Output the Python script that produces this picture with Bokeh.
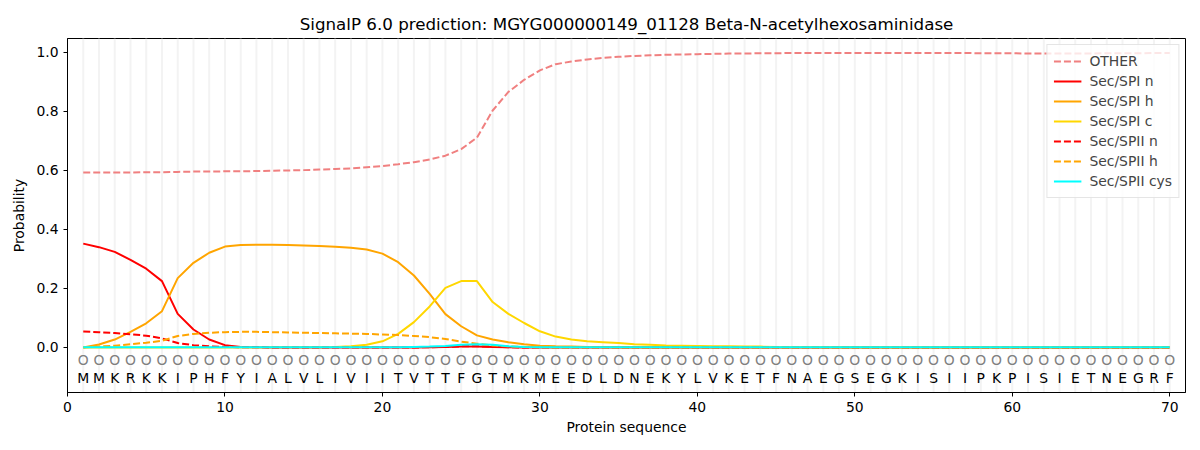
from bokeh.plotting import figure
from bokeh.models import Legend, LegendItem, Range1d, FixedTicker, CustomJSTickFormatter
from bokeh.core.properties import value
from bokeh.embed import file_html
from bokeh.resources import INLINE

title = "SignalP 6.0 prediction: MGYG000000149_01128 Beta-N-acetylhexosaminidase"
sequence = list("MMKRKKIPHFYIALVLIVIITVTTFGTMKMEEDLDNEKYLVKETFNAEGSEGKISIIPKPISIETNEGRF")
positions = list(range(1, len(sequence) + 1))

other = [0.593, 0.593, 0.593, 0.593, 0.594, 0.594, 0.595, 0.596, 0.596, 0.597,
         0.597, 0.598, 0.599, 0.600, 0.601, 0.603, 0.605, 0.607, 0.611, 0.615,
         0.621, 0.628, 0.637, 0.650, 0.672, 0.711, 0.803, 0.866, 0.907, 0.939,
         0.960, 0.969, 0.976, 0.981, 0.985, 0.988, 0.990, 0.992, 0.993, 0.994,
         0.995, 0.996, 0.996, 0.997, 0.997, 0.998, 0.998, 0.998, 0.998, 0.998,
         0.998, 0.998, 0.998, 0.998, 0.998, 0.998, 0.998, 0.997, 0.997, 0.997,
         0.996, 0.996, 0.996, 0.996, 0.996, 0.997, 0.997, 0.997, 0.998, 0.998]
spi_n = [0.352, 0.340, 0.324, 0.297, 0.267, 0.225, 0.114, 0.061, 0.027, 0.008,
         0.002, 0.001, 0.0, 0.0, 0.0, 0.0, 0.0, 0.0, 0.0, 0.0,
         0.0, 0.0, 0.001, 0.002, 0.003, 0.003, 0.002, 0.001, 0.0, 0.0] + [0.0] * 40
spi_h = [0.0, 0.010, 0.027, 0.053, 0.082, 0.123, 0.235, 0.287, 0.321, 0.342,
         0.347, 0.348, 0.348, 0.347, 0.346, 0.344, 0.341, 0.338, 0.332, 0.318,
         0.289, 0.244, 0.182, 0.113, 0.072, 0.041, 0.027, 0.018, 0.011, 0.006,
         0.004, 0.003, 0.002, 0.002, 0.001, 0.001, 0.001, 0.001, 0.001, 0.001] + [0.001] * 30
spi_c = [0.0, 0.0, 0.0, 0.0, 0.0, 0.0, 0.0, 0.0, 0.0, 0.0,
         0.0, 0.0, 0.001, 0.001, 0.001, 0.001, 0.002, 0.004, 0.009, 0.021,
         0.046, 0.086, 0.139, 0.202, 0.225, 0.225, 0.154, 0.114, 0.083, 0.055,
         0.037, 0.027, 0.021, 0.018, 0.015, 0.011, 0.009, 0.007, 0.006, 0.005,
         0.004, 0.004, 0.003, 0.003, 0.002, 0.002, 0.002, 0.002, 0.001, 0.001] + [0.001] * 20
spii_n = [0.054, 0.052, 0.049, 0.045, 0.040, 0.031, 0.015, 0.008, 0.004, 0.002,
          0.001, 0.001, 0.0, 0.0, 0.0, 0.0, 0.0, 0.0, 0.0, 0.0,
          0.0, 0.0, 0.001, 0.002, 0.004, 0.004, 0.003, 0.001, 0.0, 0.0] + [0.0] * 40
spii_h = [0.0, 0.003, 0.006, 0.011, 0.016, 0.023, 0.039, 0.046, 0.050, 0.052,
          0.053, 0.053, 0.052, 0.051, 0.050, 0.049, 0.048, 0.047, 0.046, 0.044,
          0.042, 0.039, 0.035, 0.029, 0.020, 0.013, 0.007, 0.004, 0.002, 0.001] + [0.0] * 40
spii_cys = [0.001] * 20 + [0.001, 0.002, 0.003, 0.005, 0.009, 0.011, 0.009, 0.004, 0.002, 0.001] + [0.001] * 40

series = [
    ("OTHER", other, "#F08080", "7 3"),
    ("Sec/SPI n", spi_n, "#FF0000", "solid"),
    ("Sec/SPI h", spi_h, "#FFA500", "solid"),
    ("Sec/SPI c", spi_c, "#FFD700", "solid"),
    ("Sec/SPII n", spii_n, "#FF0000", "7 3"),
    ("Sec/SPII h", spii_h, "#FFA500", "7 3"),
    ("Sec/SPII cys", spii_cys, "#00FFFF", "solid"),
]

FONT = "DejaVu Sans"
YMIN, YMAX = -0.1525, 1.047

p = figure(width=1200, height=450, output_backend="svg", toolbar_location=None,
           x_range=Range1d(0, 71), y_range=Range1d(YMIN, YMAX),
           min_border_left=67, min_border_right=15, min_border_top=38, min_border_bottom=58)

p.title.text = title
p.title.align = "center"
p.title.text_font = FONT
p.title.text_font_size = "16.7px"
p.title.text_font_style = "normal"
p.title.text_color = "black"

p.xgrid.visible = False
p.ygrid.visible = False
p.outline_line_color = "black"
p.outline_line_width = 1

# vertical position lines
p.segment(x0=positions, y0=[YMIN] * len(positions), x1=positions, y1=[YMAX] * len(positions),
          line_color="#f3f3f3", line_width=2)

renderers = []
for name, vals, color, dash in series:
    r = p.line(positions, vals, line_color=color, line_width=2, line_dash=dash)
    renderers.append((name, r))

# sequence annotation
circ_y = [-0.044] * len(positions)
let_y = [-0.102] * len(positions)
p.text(x=positions, y=circ_y, text=["O"] * len(positions), text_align="center",
       text_baseline="middle", text_font=value(FONT), text_font_size="13.9px", text_color="#808080")
p.text(x=positions, y=let_y, text=sequence, text_align="center",
       text_baseline="middle", text_font=value(FONT), text_font_size="13.9px", text_color="black")

for ax in (p.xaxis[0], p.yaxis[0]):
    ax.axis_label_text_font = FONT
    ax.axis_label_text_font_size = "13.9px"
    ax.axis_label_text_font_style = "normal"
    ax.axis_label_text_color = "black"
    ax.major_label_text_font = FONT
    ax.major_label_text_font_size = "13.9px"
    ax.major_label_text_color = "black"
    ax.minor_tick_line_color = None
    ax.major_tick_in = 0
    ax.major_tick_out = 4
    ax.axis_line_color = "black"
    ax.major_tick_line_color = "black"

p.xaxis.axis_label = "Protein sequence"
p.yaxis.axis_label = "Probability"
p.xaxis.ticker = FixedTicker(ticks=[0, 10, 20, 30, 40, 50, 60, 70])
p.yaxis.ticker = FixedTicker(ticks=[0.0, 0.2, 0.4, 0.6, 0.8, 1.0])
p.yaxis.formatter = CustomJSTickFormatter(code="return tick.toFixed(1);")
p.xaxis.major_label_standoff = 5
p.yaxis.major_label_standoff = 5
p.xaxis.axis_label_standoff = 4
p.yaxis.axis_label_standoff = 6

legend = Legend(items=[LegendItem(label=n, renderers=[r]) for n, r in renderers],
                location="top_right")
legend.label_text_font = FONT
legend.label_text_font_size = "13.9px"
legend.glyph_width = 28
legend.glyph_height = 20
legend.label_height = 20
legend.spacing = 0
legend.padding = 6
legend.margin = 6
legend.label_standoff = 8
legend.border_line_color = "#cccccc"
legend.border_line_width = 1
legend.background_fill_alpha = 0.8
p.add_layout(legend)

open("out.html", "w").write(file_html(p, INLINE))
